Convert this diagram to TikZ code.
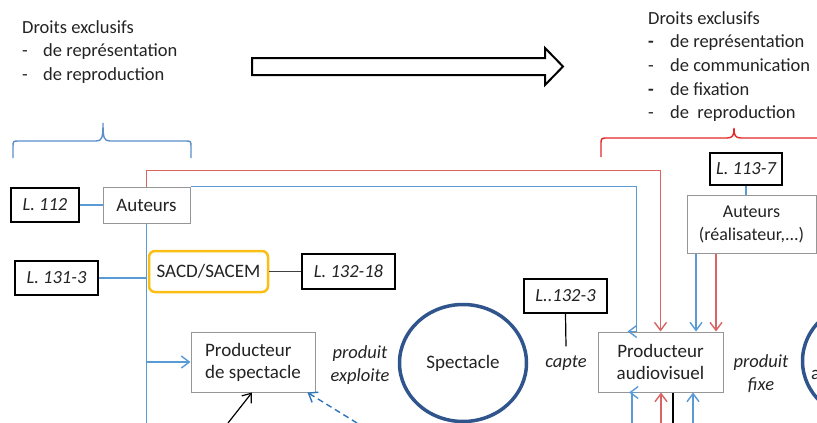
\documentclass[tikz,border=0pt]{standalone}
\usepackage{fontspec}
\setmainfont{Carlito}
\usetikzlibrary{arrows.meta,shapes.geometric,calc}
\definecolor{lnblue}{RGB}{91,155,213}
\definecolor{dashblue}{RGB}{46,117,182}
\definecolor{lnred}{RGB}{218,100,100}
\definecolor{bracered}{RGB}{228,40,40}
\definecolor{braceblue}{RGB}{91,143,201}
\definecolor{circblue}{RGB}{47,85,140}
\definecolor{orangeb}{RGB}{250,190,20}
\definecolor{boxgray}{RGB}{150,150,150}
\definecolor{txt}{RGB}{35,35,35}
\begin{document}
\begin{tikzpicture}[x=1pt,y=-1pt,
  every node/.style={text=txt},
  font=\fontsize{19}{22}\selectfont,
  law/.style={draw=black, line width=1.8pt, fill=white, font=\fontsize{18.5}{22}\selectfont\itshape, inner sep=0, minimum height=34pt},
  box/.style={draw=boxgray, line width=1pt, fill=white, inner sep=0},
  lab/.style={font=\fontsize{18.5}{23.5}\selectfont\itshape, align=center, inner sep=0},
  bl/.style={draw=lnblue, line width=1.4pt},
  rl/.style={draw=lnred, line width=1.4pt},
  blk/.style={draw=black, line width=1.2pt},
  dk/.style={draw=black!75, line width=1.2pt},
  tip/.style={-{Straight Barb[length=8pt,width=12pt]}},
  circ/.style={ellipse, draw=circblue, line width=3.5pt, minimum width=127pt, minimum height=117pt, inner sep=0}
]
\useasboundingbox (0,0) rectangle (817,423);
\clip (0,0) rectangle (817,423);

% header texts
\node[anchor=base west, inner sep=0, font=\fontsize{18.5}{23.7}\selectfont] (txtl) at (22,33)
 {\begin{tabular}[t]{@{}l@{}l@{}}\multicolumn{2}{@{}l@{}}{Droits exclusifs}\\
  \makebox[21pt][l]{-}&de représentation\\
  \makebox[21pt][l]{-}&de reproduction\end{tabular}};
\node[anchor=base west, inner sep=0, font=\fontsize{18.5}{23.7}\selectfont] (txtr) at (648,24)
 {\begin{tabular}[t]{@{}l@{}l@{}}\multicolumn{2}{@{}l@{}}{Droits exclusifs}\\
  \makebox[22pt][l]{\textbf{-}}&de représentation\\
  \makebox[22pt][l]{-}&de communication\\
  \makebox[22pt][l]{\textbf{-}}&de fixation\\
  \makebox[22pt][l]{-}&de\ \ reproduction\end{tabular}};

% big arrow
\draw[line width=2pt, fill=white, line join=miter] (252,58) -- (545,58) -- (545,48) -- (563,66.5) -- (545,85) -- (545,75) -- (252,75) -- cycle;

% braces
\draw[draw=braceblue, line width=1.4pt] (13,158) -- (13,147) .. controls (13,141) .. (19,141) -- (96,141)
  .. controls (102,141) and (103,138) .. (103,123) .. controls (103,138) and (104,141) .. (110,141)
  -- (185,141) .. controls (191,141) .. (191,147) -- (191,158);
\draw[draw=bracered, line width=1.4pt] (601,157) -- (601,145) .. controls (601,138) .. (608,138) -- (727,138)
  .. controls (733,138) and (734,135) .. (734,128) .. controls (734,135) and (735,138) .. (741,138) -- (830,138);

% nodes
\node[law, minimum width=68pt] (l112) at (45,205) {L. 112};
\node[box, minimum width=87pt, minimum height=36pt] (aut1) at (146.5,205) {Auteurs};
\node[law, minimum width=83pt] (l1313) at (56.5,278) {L. 131-3};
\node[draw=orangeb, line width=2.5pt, rounded corners=6pt, fill=white, minimum width=119pt, minimum height=41pt, inner sep=0] (sacd) at (208.5,271.5) {SACD/SACEM};
\node[law, minimum width=93pt, minimum height=35pt] (l13218) at (348.5,271.5) {L. 132-18};
\node[box, minimum width=124pt, minimum height=60pt, align=left] (prodsp) at (253,362) {Producteur\\de spectacle};
\node[circ] (spect) at (463,363) {Spectacle};
\node[law, minimum width=83pt] (l1323) at (565.5,296) {L..132-3};
\node[box, minimum width=125pt, minimum height=60pt, align=center] (prodav) at (660.5,362) {Producteur\\audiovisuel};
\node[box, minimum width=129pt, minimum height=58pt, align=center, font=\fontsize{18}{23}\selectfont] (aut2) at (751.5,224) {Auteurs\\(réalisateur,...)};
\node[law, minimum width=72pt, minimum height=32pt] (l1137) at (746,169) {L. 113-7};
\node[circ] (oeuvre) at (866,361) {};
\node[anchor=base west, inner sep=0] (oeuvretxt) at (811,379) {audiovisuelle};

\node[lab] (pe) at (360,365) {produit\\exploite};
\node[lab] (pf) at (761,373.5) {produit\\fixe};
\node[lab] (capte) at (566,363) {capte};

% helper coordinates
\coordinate (b1) at (146.5,423);
\coordinate (b2) at (632,423);
\coordinate (b3) at (661,423);
\coordinate (b4) at (673,423);
\coordinate (b5) at (693,423);
\coordinate (b6) at (228,423);
\coordinate (b7) at (357,423);
\coordinate (x6) at (252,0);
\coordinate (xa) at (696,0);
\coordinate (xr) at (716,0);

% connectors
\draw[bl] (l112) -- (aut1);
\draw[bl] (aut1.south) -- (b1);
\draw[bl] (l1313.east) -- (l1313.east -| aut1.south);
\draw[dk] (sacd) -- (l13218);
\draw[bl,tip] (aut1.south |- prodsp.west) -- (prodsp.west);
\draw[rl,tip] (aut1.north) |- ($(prodav.north)+(0,-161)$) -- (prodav.north);
\draw[bl] (aut1.north east) -| ($(prodav.north west)+(39,0)$);
\draw[bl,tip] ($(prodav.north west)+(39,0)$) -- ($(prodav.north west)+(30,0)$);
\draw[bl] (l1137.south) -- (l1137.south |- aut2.north);
\draw[bl,tip] (aut2.south -| xa) -- (prodav.north -| xa);
\draw[rl,tip] (aut2.south -| xr) -- (prodav.north -| xr);
\draw[blk] (l1323.south) -- ($(capte.north)+(0,-9)$);

\draw[bl] (b2) -- (b2 |- prodav.south);
\draw[bl,tip] ($(b2 |- prodav.south)+(5,0)$) -- ($(b2 |- prodav.south)+(-3,0)$);
\draw[rl,tip] (b3) -- (b3 |- prodav.south);
\draw[blk] (prodav.south -| b4) -- (b4);
\draw[bl,tip] (b5) -- (b5 |- prodav.south);
\draw[blk,tip] (b6) -- (prodsp.south -| x6);
\draw[draw=dashblue, line width=1.4pt, dash pattern=on 6pt off 4pt, tip] (b7) -- ($(prodsp.south east)+(-8,0)$);
\end{tikzpicture}
\end{document}
